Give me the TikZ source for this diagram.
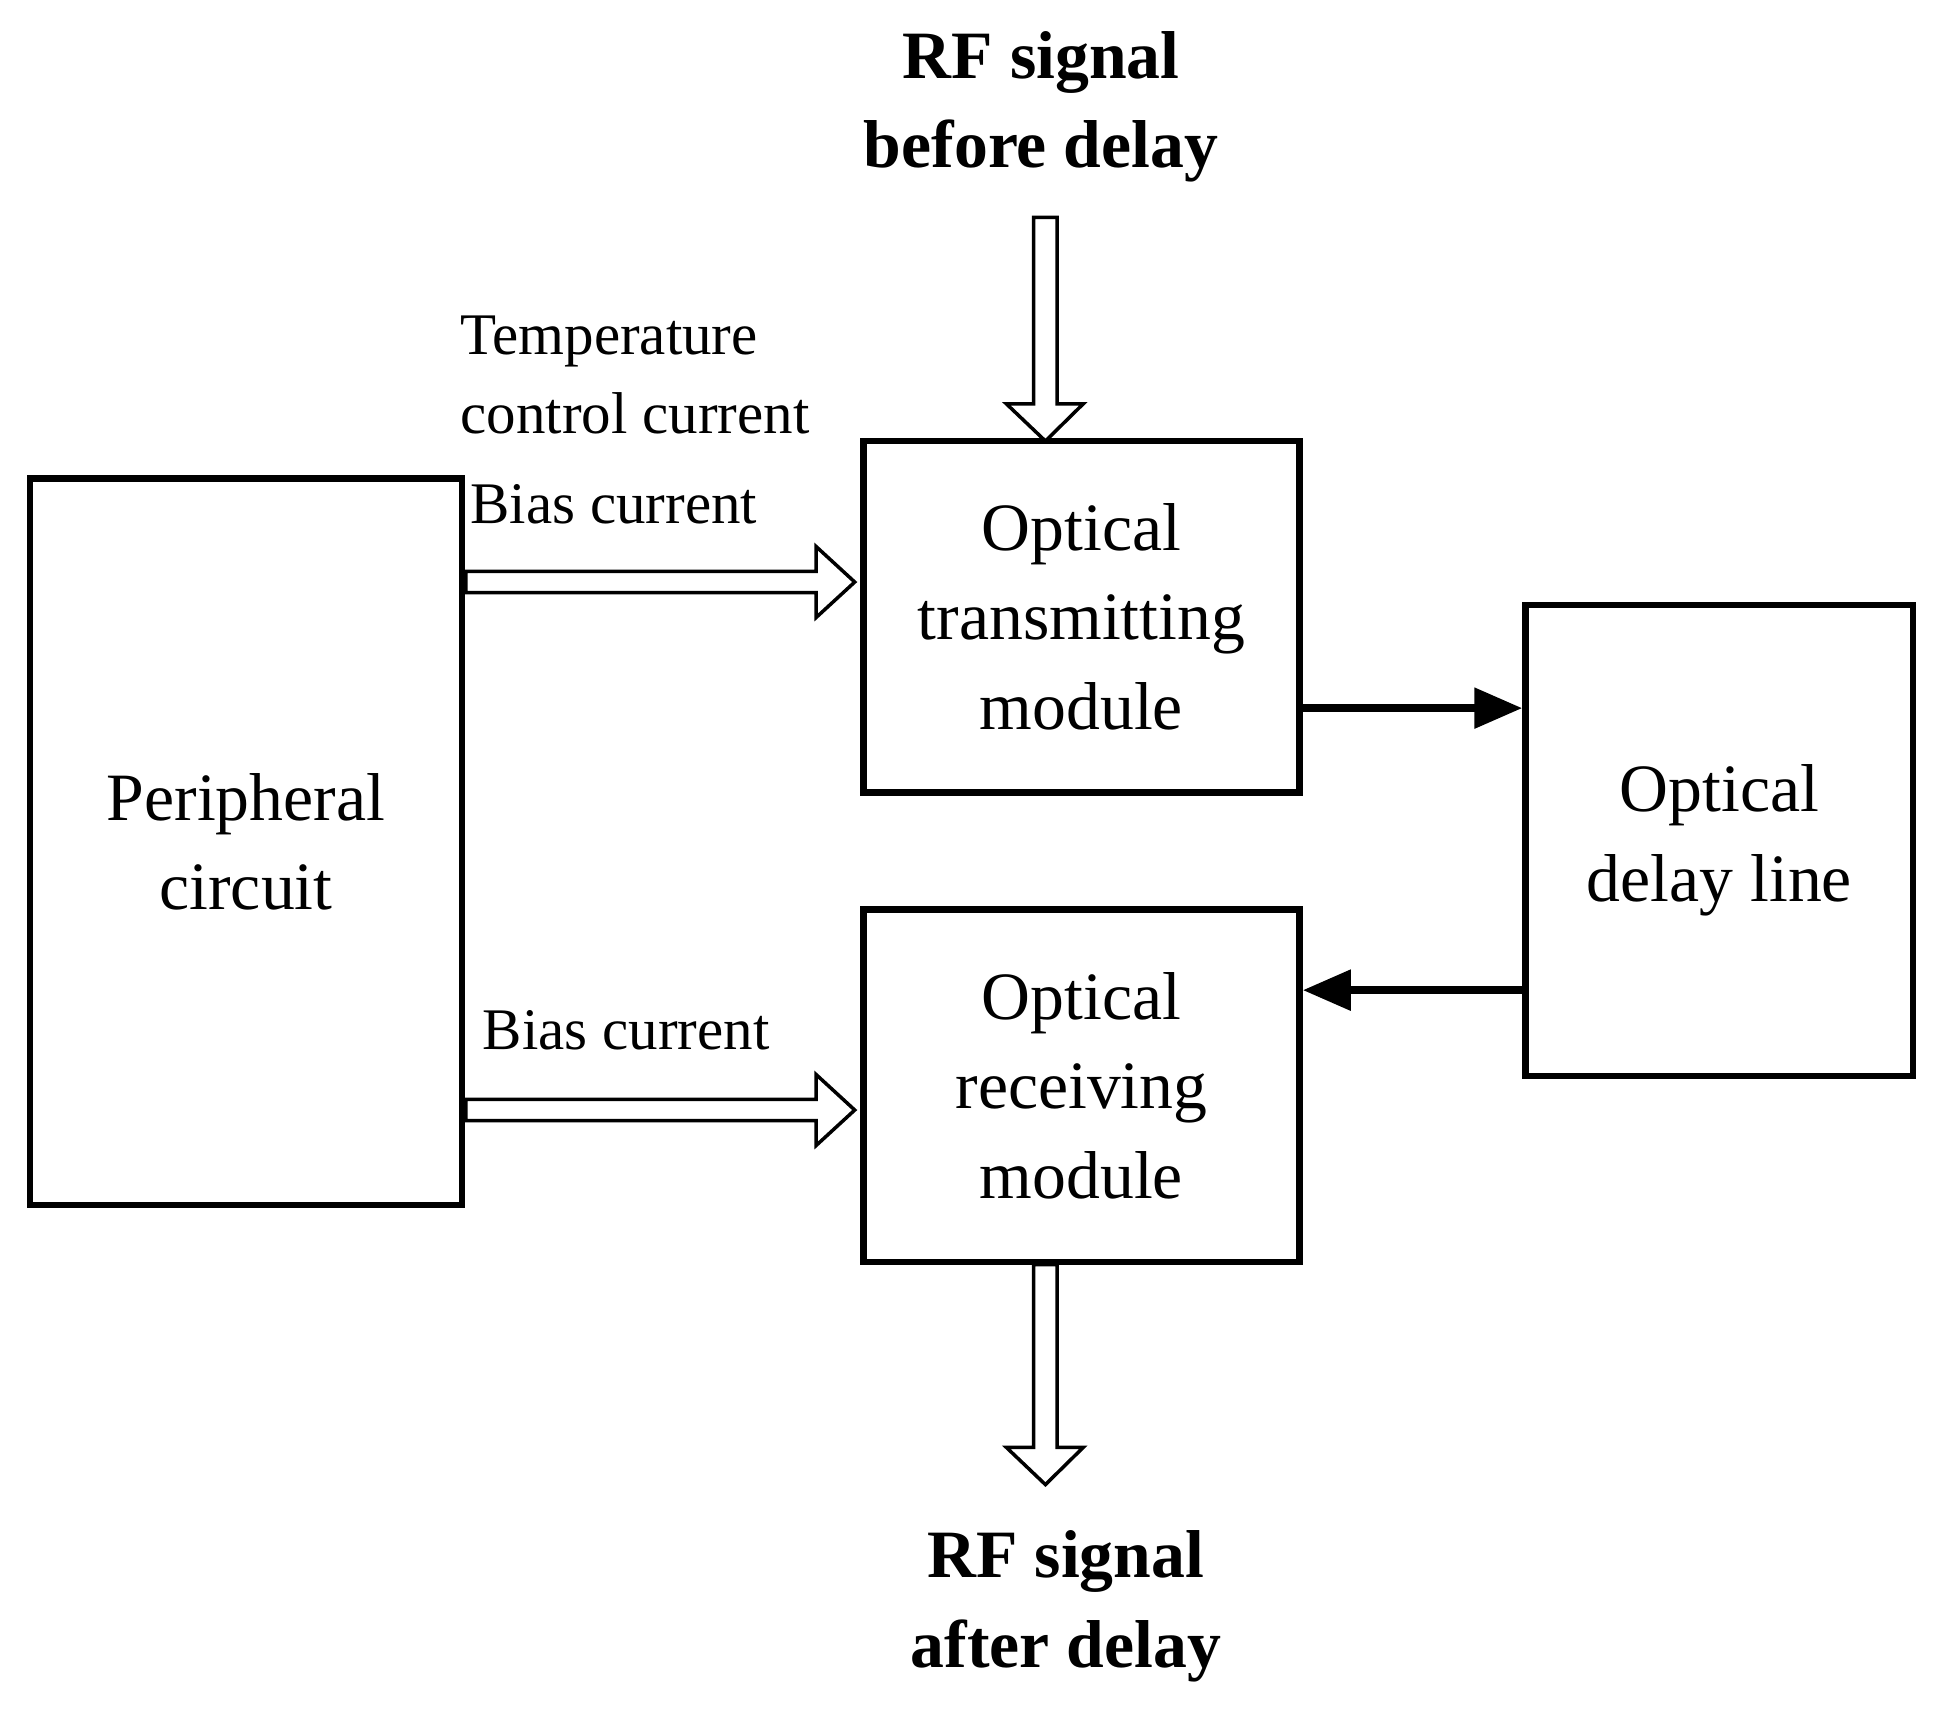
\documentclass[tikz,border=0pt]{standalone}
\usepackage{fontspec}
\setmainfont{Liberation Serif}
\usetikzlibrary{arrows.meta}
\begin{document}
\begin{tikzpicture}[x=0.01cm,y=-0.01cm,
  box/.style={draw,line width=1.5pt,inner sep=0pt,align=center,font=\fontsize{15.5}{20.5}\selectfont},
  lbl/.style={align=left,inner sep=0pt,font=\fontsize{13.5}{18}\selectfont,anchor=west},
  big/.style={align=center,inner sep=0pt,font=\fontsize{15.5}{20.5}\selectfont\bfseries},
  hollow/.style={draw,line width=0.8pt,fill=white},
  solid/.style={line width=1.8pt,-{Triangle[length=11pt,width=9pt]}}]
\useasboundingbox (0,0) rectangle (1568,1379);
\node[box,minimum width=348\pgflinewidth/\pgflinewidth*0.01cm,minimum height=585*0.01cm] (pc) at (198,677.5) {Peripheral\\circuit};
\node[box,minimum width=351*0.01cm,minimum height=283*0.01cm] (tx) at (870.5,496.5) {Optical\\transmitting\\module};
\node[box,minimum width=312*0.01cm,minimum height=379*0.01cm] (dl) at (1384,676.5) {Optical\\delay line};
\node[box,minimum width=351*0.01cm,minimum height=284*0.01cm] (rx) at (870.5,874) {Optical\\receiving\\module};
\node[big] (rfin) at (838,86) {RF signal\\before delay};
\node[big] (rfout) at (858,1293) {RF signal\\after delay};
\node[lbl] (tc) at (370,302) {Temperature\\control current};
\node[lbl] (b1) at (378,406) {Bias current};
\node[lbl] (b2) at (388,829) {Bias current};
% hollow arrows
\draw[hollow] (375,460) -- (657,460) -- (657,440) -- (688,468.5) -- (657,497) -- (657,477) -- (375,477) -- cycle;
\draw[hollow] (375,885) -- (657,885) -- (657,865) -- (688,893.5) -- (657,922) -- (657,902) -- (375,902) -- cycle;
\draw[hollow] (832,175) -- (851,175) -- (851,325) -- (872,325) -- (841.5,355) -- (810,325) -- (832,325) -- cycle;
\draw[hollow] (832,1018) -- (851,1018) -- (851,1165) -- (872,1165) -- (841.5,1195) -- (810,1165) -- (832,1165) -- cycle;
% solid arrows
\draw[solid] (tx.east |- 0,570) -- (dl.west |- 0,570);
\draw[solid] (dl.west |- 0,797) -- (rx.east |- 0,797);
\end{tikzpicture}
\end{document}
